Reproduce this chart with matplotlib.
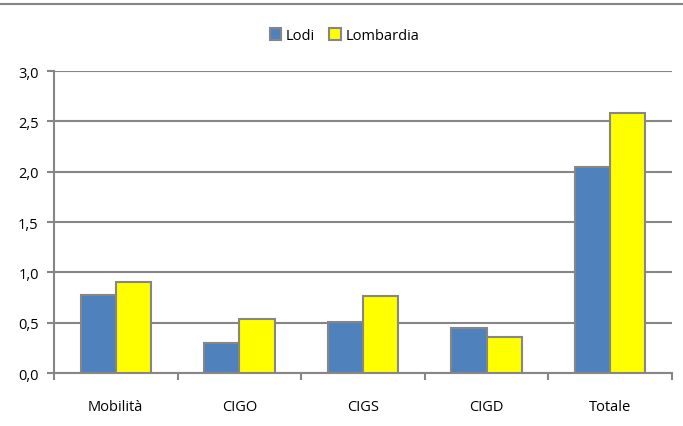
import numpy as np
import matplotlib.pyplot as plt
from matplotlib.lines import Line2D

categories = ['Mobilità', 'CIGO', 'CIGS', 'CIGD', 'Totale']
lodi = [0.78, 0.30, 0.51, 0.45, 2.05]
lombardia = [0.90, 0.54, 0.77, 0.36, 2.58]
yticks = [0.0, 0.5, 1.0, 1.5, 2.0, 2.5, 3.0]

plt.rcParams['font.family'] = ['Open Sans', 'DejaVu Sans']
grey = '#868686'

fig = plt.figure(figsize=(6.83, 4.27), dpi=100)
ax = fig.add_axes([0.079, 0.124, 0.905, 0.707])

x = np.arange(len(categories))
w = 0.285
ax.bar(x - w / 2, lodi, w, color='#4f81bd', edgecolor=grey, linewidth=1.5, label='Lodi', zorder=3)
ax.bar(x + w / 2, lombardia, w, color='#ffff00', edgecolor=grey, linewidth=1.5, label='Lombardia', zorder=3)

ax.set_xlim(-0.5, len(categories) - 0.5)
ax.set_ylim(0, 3.0)
ax.set_yticks(yticks)
ax.set_yticklabels([f'{v:.1f}'.replace('.', ',') for v in yticks], fontsize=10.5)
ax.yaxis.grid(True, color=grey, linewidth=1.5, zorder=0)

ax.set_xticks(x)
ax.set_xticklabels(categories, fontsize=10.5)
ax.tick_params(axis='x', which='major', length=0, pad=19)
ax.set_xticks(np.arange(-0.5, len(categories)), minor=True)
ax.tick_params(axis='x', which='minor', length=5, width=1.5, color=grey)
ax.tick_params(axis='y', length=5, width=1.5, color=grey, pad=6)

for s in ['top', 'right']:
    ax.spines[s].set_visible(False)
for s in ['left', 'bottom']:
    ax.spines[s].set_color(grey)
    ax.spines[s].set_linewidth(1.5)

ax.legend(loc='center', bbox_to_anchor=(0.47, 1.118), ncol=2, frameon=False,
          fontsize=10.5, handlelength=0.8, handleheight=0.8, columnspacing=1.0, handletextpad=0.3)

fig.add_artist(Line2D([0, 1], [1 - 5 / 427, 1 - 5 / 427], color=grey, linewidth=1.5))

fig.savefig('out.png', dpi=100)
